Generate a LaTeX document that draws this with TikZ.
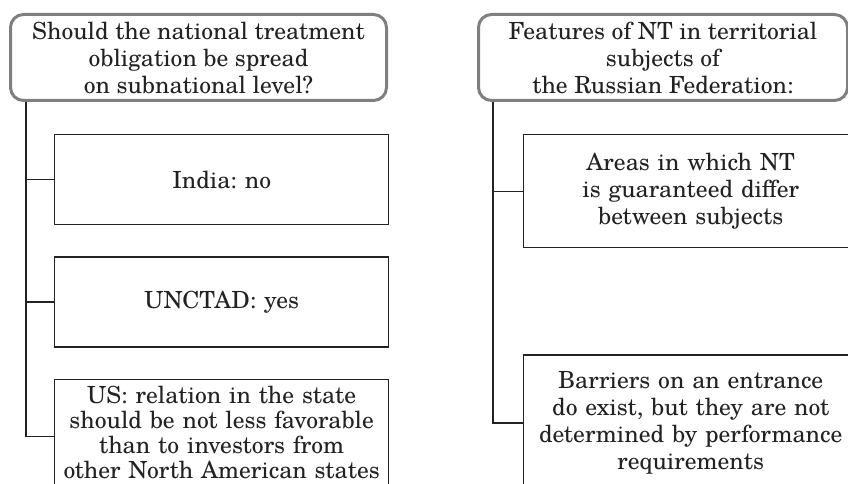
\documentclass[tikz,border=0pt]{standalone}
\usepackage{fontspec}
\setmainfont{TeX Gyre Schola}
\usetikzlibrary{positioning}

\definecolor{headgray}{HTML}{7F7F7F}
\definecolor{inkgray}{HTML}{222222}

\begin{document}
\frenchspacing
\begin{tikzpicture}[x=1pt,y=-1pt,
    head node/.style={draw=headgray,line width=3pt,rounded corners=13pt,align=center,text=inkgray,
        font=\fontsize{23.6}{27}\selectfont,inner sep=1pt},
    item node/.style={draw=inkgray,line width=1.4pt,align=center,text=inkgray,minimum width=334pt,
        text width=330pt,font=\fontsize{23.6}{27}\selectfont,inner xsep=1pt},
    link/.style={draw=inkgray,line width=1.3pt}]
    \useasboundingbox (0,0) rectangle (848,484);
    \clip (0,0) rectangle (848,484);

    % left column
    \node[head node,minimum width=376pt,minimum height=86pt] (hdrL) at (198.5,57.5)
        {Should the national treatment\\obligation be spread\\on subnational level?};
    \node[item node,minimum height=90pt] (india) [below right=32pt and 45pt of hdrL.south west] {India: no};
    \node[item node,minimum height=90pt] (unctad) [below=31pt of india] {UNCTAD: yes};
    \node[item node,minimum height=114pt,font=\fontsize{23.6}{25}\selectfont] (us) [below=31pt of unctad]
        {US: relation in the state\\should be not less favorable\\than to investors from\\other North American states\rule[-8pt]{0pt}{8pt}};

    % right column
    \node[head node,minimum width=369pt,minimum height=86pt] (hdrR) at (663,57.5)
        {Features of NT in territorial\\subjects of\\the Russian Federation:};
    \node[item node,minimum height=113pt] (areas) [below right=32pt and 46pt of hdrR.south west]
        {Areas in which NT\\is guaranteed differ\\between subjects};
    \node[item node,minimum height=136pt] (barriers) [below=106pt of areas]
        {Barriers on an entrance\\do exist, but they are not\\determined by performance\\requirements};

    \path[link]
        ([xshift=17pt]hdrL.south west) |- (india.west)
        ([xshift=17pt]hdrL.south west) |- (unctad.west)
        ([xshift=17pt]hdrL.south west) |- (us.west)
        ([xshift=16pt]hdrR.south west) |- (areas.west)
        ([xshift=16pt]hdrR.south west) |- (barriers.west);
\end{tikzpicture}
\end{document}
